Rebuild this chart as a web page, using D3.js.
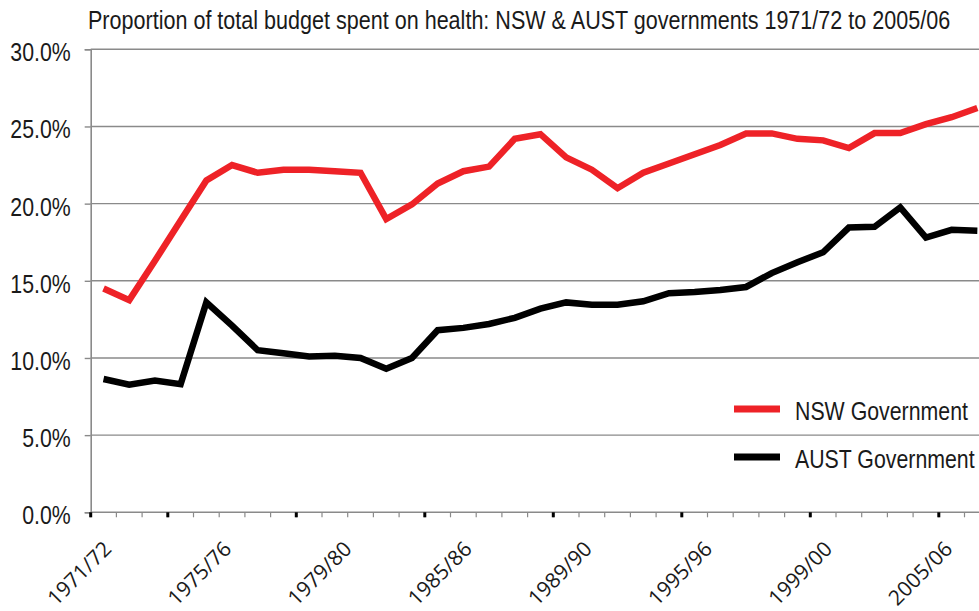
<!DOCTYPE html>
<html>
<head>
<meta charset="utf-8">
<script src="https://cdn.jsdelivr.net/npm/d3@7"></script>
<style>
  html, body { margin: 0; padding: 0; background: #fff; overflow: hidden; }
  svg { display: block; }
</style>
</head>
<body>
<div id="chart"></div>
<script>
// financial years, one per category
const years = ["1971/72","1972/73","1973/74","1974/75","1975/76","1976/77","1977/78","1978/79",
  "1979/80","1980/81","1981/82","1982/83","1983/84","1984/85","1985/86","1986/87","1987/88",
  "1988/89","1989/90","1990/91","1991/92","1992/93","1993/94","1994/95","1995/96","1996/97",
  "1997/98","1998/99","1999/00","2000/01","2001/02","2002/03","2003/04","2004/05","2005/06"];

// % of total budget spent on health
const nsw = [14.5, 13.75, 16.3, 18.9, 21.5, 22.5, 22.0, 22.2, 22.2, 22.1, 22.0, 19.0, 19.95,
  21.3, 22.1, 22.4, 24.2, 24.5, 23.0, 22.2, 21.0, 22.0, 22.6, 23.2, 23.8, 24.55, 24.55,
  24.2, 24.1, 23.6, 24.57, 24.57, 25.15, 25.6, 26.2];
const aust = [8.64, 8.27, 8.53, 8.3, 13.6, 12.1, 10.5, 10.3, 10.1, 10.15, 10.0, 9.3, 10.0,
  11.8, 11.95, 12.2, 12.6, 13.2, 13.6, 13.45, 13.45, 13.67, 14.2, 14.27, 14.4, 14.6, 15.5,
  16.2, 16.85, 18.45, 18.5, 19.75, 17.8, 18.3, 18.25];

// axis labels as printed on the original
const xLabels = ["1971/72","1975/76","1979/80","1985/86","1989/90","1995/96","1999/00","2005/06"];
const majorTickIdx = [0, 3, 8, 13, 18, 23, 28, 33];
const yTicks = [0, 5, 10, 15, 20, 25, 30];

const series = [
  {name: "NSW Government", values: nsw, color: "#ee2227"},
  {name: "AUST Government", values: aust, color: "#000000"}
];

const width = 979, height = 611;
const margin = {top: 49.3, left: 90.7, bottom: 98.7};
const step = 25.7;

// the original uses a condensed face; squeeze the regular one if no narrow face is installed
const narrowFont = "'Liberation Sans Narrow', 'Arial Narrow'";
function hasFont(name) {
  const ctx = document.createElement("canvas").getContext("2d");
  ctx.font = "40px monospace";
  const a = ctx.measureText("Government 1971/72").width;
  ctx.font = `40px ${name}, monospace`;
  return ctx.measureText("Government 1971/72").width !== a;
}
const gotNarrow = hasFont("'Liberation Sans Narrow'") || hasFont("'Arial Narrow'");
const narrow = gotNarrow ? narrowFont + ", sans-serif" : "'Liberation Sans', Arial, sans-serif";
const squeeze = gotNarrow ? 1 : 0.82;

const svg = d3.select("#chart").append("svg")
  .attr("width", width)
  .attr("height", height);

const x = d3.scaleBand()
  .domain(years)
  .range([margin.left, margin.left + years.length * step])
  .paddingInner(0).paddingOuter(0);

const y = d3.scaleLinear()
  .domain([0, 30])
  .range([height - margin.bottom, margin.top]);

const xRight = Math.min(width, x.range()[1]);

// title
svg.append("g")
  .attr("transform", "translate(88,29)")
  .append("text")
    .attr("transform", `scale(${squeeze},1)`)
    .style("font-family", narrow)
    .style("font-size", "26.3px")
    .style("fill", "#1a1a1a")
    .text("Proportion of total budget spent on health: NSW & AUST governments 1971/72 to 2005/06");

// gridlines
svg.append("g")
  .selectAll("line")
  .data(yTicks.filter(d => d > 0))
  .enter().append("line")
    .attr("x1", margin.left)
    .attr("x2", xRight)
    .attr("y1", d => y(d))
    .attr("y2", d => y(d))
    .attr("stroke", "#8a8a8a")
    .attr("stroke-width", 1.4);

// y axis
const yAxis = g => g
  .attr("transform", `translate(${margin.left},0)`)
  .call(d3.axisLeft(y)
    .tickValues(yTicks)
    .tickSize(6)
    .tickPadding(14)
    .tickFormat(d => d3.format(".1f")(d) + "%"));

const gy = svg.append("g").call(yAxis);
gy.select(".domain").attr("stroke", "#8a8a8a").attr("stroke-width", 1.6);
gy.selectAll(".tick line").attr("stroke", "#8a8a8a").attr("stroke-width", 1.4);
gy.selectAll(".tick text")
  .attr("x", -20 / squeeze)
  .attr("dy", "0.44em")
  .attr("transform", `scale(${squeeze},1)`)
  .style("font-family", narrow)
  .style("font-size", "26px")
  .style("fill", "#1a1a1a");

// x axis line + minor ticks at category boundaries
const boundaries = years.map(d => x(d));
const gx = svg.append("g");
gx.append("line")
  .attr("x1", margin.left).attr("x2", xRight)
  .attr("y1", y(0)).attr("y2", y(0))
  .attr("stroke", "#8a8a8a").attr("stroke-width", 1.6);
gx.selectAll("line.minor")
  .data(boundaries)
  .enter().append("line")
    .attr("class", "minor")
    .attr("x1", d => d).attr("x2", d => d)
    .attr("y1", y(0)).attr("y2", y(0) + 5)
    .attr("stroke", "#8a8a8a").attr("stroke-width", 1.2);
gx.selectAll("line.major")
  .data(majorTickIdx)
  .enter().append("line")
    .attr("class", "major")
    .attr("x1", d => x(years[d])).attr("x2", d => x(years[d]))
    .attr("y1", y(0)).attr("y2", y(0) + 5)
    .attr("stroke", "#000").attr("stroke-width", 3);

// x labels, spread evenly along the axis
const xl = d3.scalePoint()
  .domain(xLabels)
  .range([margin.left + 22, margin.left + 863]);

gx.selectAll("text")
  .data(xLabels)
  .enter().append("text")
    .attr("transform", d => `translate(${xl(d)},${y(0) + 38}) rotate(-45)`)
    .attr("text-anchor", "end")
    .style("font-family", "'Open Sans', 'Noto Sans', sans-serif")
    .style("font-size", "21px")
    .style("fill", "#1a1a1a")
    .text(d => d);

// lines
const line = d3.line()
  .x((d, i) => x(years[i]) + x.bandwidth() / 2)
  .y(d => y(d));

svg.append("g")
  .selectAll("path")
  .data(series)
  .enter().append("path")
    .attr("d", d => line(d.values))
    .attr("fill", "none")
    .attr("stroke", d => d.color)
    .attr("stroke-width", 6.5)
    .attr("stroke-linejoin", "miter");

// legend
const legend = svg.append("g")
  .selectAll("g")
  .data(series)
  .enter().append("g")
    .attr("transform", (d, i) => `translate(734,${409 + i * 48})`);

legend.append("line")
  .attr("x1", 0).attr("x2", 46)
  .attr("stroke", d => d.color)
  .attr("stroke-width", 7);

legend.append("g")
  .attr("transform", "translate(61,11)")
  .append("text")
    .attr("transform", `scale(${squeeze},1)`)
    .style("font-family", narrow)
    .style("font-size", "26px")
    .style("fill", "#1a1a1a")
    .text(d => d.name);
</script>
</body>
</html>
